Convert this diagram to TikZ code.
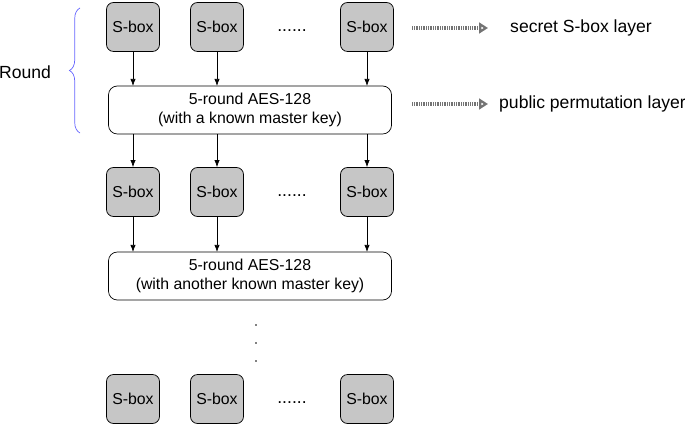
\documentclass[tikz,border=0pt]{standalone}
\usepackage{fontspec}
\setmainfont{Liberation Sans}
\usetikzlibrary{arrows.meta,decorations.pathreplacing}
\tikzset{
  sbox/.style={draw, fill=gray!45, rounded corners=4pt, minimum width=49*0.02cm, minimum height=49*0.02cm, font=\fontsize{9}{11}\selectfont},
  aes/.style={draw, fill=white, rounded corners=5pt, minimum width=283*0.02cm, minimum height=48*0.02cm, align=center, font=\fontsize{9}{11}\selectfont},
  flow/.style={-{Latex[length=4pt,width=3pt]}, thin},
  layer/.style={draw=gray!90!black, line width=2.5pt, dash pattern=on 0.5pt off 0.5pt, -{Triangle[open,length=5pt,width=6pt]}},
}
\begin{document}
\begin{tikzpicture}[x=0.02cm, y=-0.02cm]
\useasboundingbox (0,0) rectangle (685,425);
% first round
\node[sbox] (s11) at (133,27) {S-box};
\node[sbox] (s12) at (217,27) {S-box};
\node[sbox] (s13) at (367,27) {S-box};
\node (d1) at (292,31) {......};
\node[aes] (a1) at (250,110) {5-round AES-128\\(with a known master key)};
% second round
\node[sbox] (s21) at (133,192) {S-box};
\node[sbox] (s22) at (217,192) {S-box};
\node[sbox] (s23) at (367,192) {S-box};
\node (d2) at (292,196) {......};
\node[aes] (a2) at (250,276) {5-round AES-128\\(with another known master key)};
% last row
\node[sbox] (s31) at (133,399) {S-box};
\node[sbox] (s32) at (217,399) {S-box};
\node[sbox] (s33) at (367,399) {S-box};
\node (d3) at (292,403) {......};
\foreach \y in {325,343,361}
{
    \fill (256,\y) circle (0.5pt);
}
\foreach \i/\x in {1/133,2/217,3/367}
{
    \draw[flow] (s1\i.south) -- (\x,86);
    \draw[flow] (\x,134) -- (s2\i.north);
    \draw[flow] (s2\i.south) -- (\x,252);
}
% brace and labels
\draw[blue!60, decorate, decoration={brace, amplitude=6pt}] (80,133) -- (80,8);
\node[font=\fontsize{10}{12}\selectfont] (rnd) at (25,72) {Round};
\coordinate (l1) at (412,28);
\coordinate (l2) at (412,104);
\node[anchor=west, font=\fontsize{10}{12}\selectfont] (t1) at (504,28) {secret S-box layer};
\node[anchor=west, font=\fontsize{10}{12}\selectfont] (t2) at (493,104) {public permutation layer};
\draw[layer] (l1) -- (488,28);
\draw[layer] (l2) -- (488,104);
\end{tikzpicture}
\end{document}
